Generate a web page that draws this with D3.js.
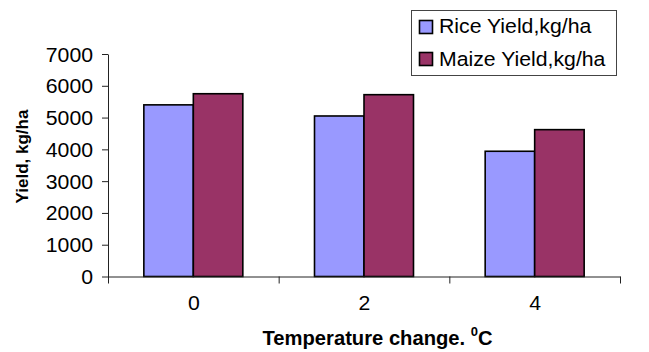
<!DOCTYPE html>
<html><head><meta charset="utf-8">
<script src="https://cdnjs.cloudflare.com/ajax/libs/d3/7.8.5/d3.min.js"></script>
<style>
html,body{margin:0;padding:0;background:#fff;}
text{font-family:"Liberation Sans",Arial,sans-serif;fill:#000;}
</style></head>
<body>
<svg id="chart" width="649" height="352"></svg>
<script>
const categories = ["0", "2", "4"];
const seriesNames = ["Rice Yield,kg/ha", "Maize Yield,kg/ha"];
const riceYield = [5400, 5050, 3940];
const maizeYield = [5750, 5720, 4620];
const yTicks = [0, 1000, 2000, 3000, 4000, 5000, 6000, 7000];
const colors = ["#9999FF", "#993366"];

const svg = d3.select("#chart");
const SX = 1.09; // slight horizontal stretch of the original image text
const FS = 19.5;
const pLeft = 108, pRight = 620, pTop = 54, pBottom = 276.5;

const x = d3.scaleBand().domain(categories).range([pLeft, pRight]).paddingInner(0.42).paddingOuter(0.21);
const xs = d3.scaleBand().domain([0, 1]).range([0, x.bandwidth()]);
const y = d3.scaleLinear().domain([0, 7000]).range([pBottom, pTop]);
const xb = d3.scaleLinear().domain([0, categories.length]).range([pLeft, pRight]);

// bars
const series = [riceYield, maizeYield];
series.forEach((vals, si) => {
  svg.append("g").selectAll("rect").data(vals).join("rect")
    .attr("x", (d, i) => x(categories[i]) + xs(si))
    .attr("y", d => y(d))
    .attr("width", xs.bandwidth())
    .attr("height", d => y(0) - y(d))
    .attr("fill", colors[si])
    .attr("stroke", "#000")
    .attr("stroke-width", 1.6);
});

// y axis
const gy = svg.append("g").attr("transform", `translate(${pLeft},0)`)
  .call(d3.axisLeft(y).tickValues(yTicks).tickSize(6).tickSizeOuter(0).tickFormat(d3.format("d")));
gy.select(".domain").attr("stroke", "#222");
gy.selectAll(".tick line").attr("stroke", "#222");
gy.selectAll(".tick text").attr("font-size", FS).attr("x", null).attr("dy", null)
  .attr("text-anchor", "end")
  .attr("transform", `translate(-15,7) scale(${SX},1)`);

// x axis with boundary ticks
const gxb = svg.append("g").attr("transform", `translate(0,${pBottom})`)
  .call(d3.axisBottom(xb).tickValues([0, 1, 2, 3]).tickSize(7).tickSizeOuter(0).tickFormat(""));
gxb.select(".domain").attr("stroke", "#222");
gxb.selectAll(".tick line").attr("stroke", "#222");
const gx = svg.append("g").attr("transform", `translate(0,${pBottom})`)
  .call(d3.axisBottom(x).tickSize(0));
gx.select(".domain").remove();
gx.selectAll(".tick text").attr("font-size", FS).attr("y", null).attr("dy", null)
  .attr("transform", `translate(0.5,33.5) scale(${SX},1)`);

// axis titles
svg.append("text").attr("font-size", 17).attr("font-weight", "bold")
  .attr("text-anchor", "middle")
  .attr("transform", `translate(28,156.5) rotate(-90)`)
  .text("Yield, kg/ha");

const xt = svg.append("text").attr("font-size", 20.2).attr("font-weight", "bold")
  .attr("text-anchor", "start")
  .attr("transform", `translate(262.5,345)`);
xt.append("tspan").text("Temperature change. ");
xt.append("tspan").attr("font-size", 13).attr("dy", -9).text("0");
xt.append("tspan").attr("dy", 9).text("C");

// legend
const lg = svg.append("g");
lg.append("rect").attr("x", 411.5).attr("y", 10.5).attr("width", 205).attr("height", 65)
  .attr("fill", "#fff").attr("stroke", "#444").attr("stroke-width", 1);
seriesNames.forEach((name, i) => {
  const yy = 20 + i * 32;
  lg.append("rect").attr("x", 419.5).attr("y", yy + 0.5).attr("width", 13).attr("height", 13)
    .attr("fill", colors[i]).attr("stroke", "#000").attr("stroke-width", 1.6);
  lg.append("text").attr("font-size", FS)
    .attr("transform", `translate(439,${yy + 13.2 + i * 1}) scale(${SX},1)`)
    .text(name);
});
</script>
</body></html>
